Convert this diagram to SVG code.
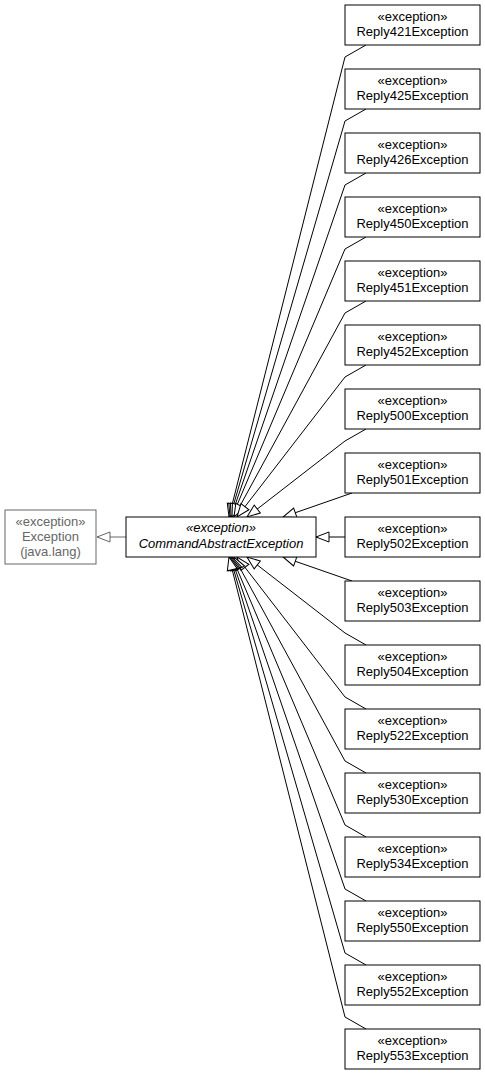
<svg xmlns="http://www.w3.org/2000/svg" width="485" height="1075" viewBox="0 0 485 1075">
<style>
.box{fill:#fff;stroke:#000;stroke-width:1}
.ext{fill:#fff;stroke:#666;stroke-width:1}
text{font-family:"Liberation Sans",Arial,sans-serif;font-size:13px;text-anchor:middle;fill:#000}
.gt{fill:#666}
.it{font-style:italic}
.e{fill:none;stroke:#000;stroke-width:1}
.eg{fill:none;stroke:#666;stroke-width:1}
</style>
<defs>
<marker id="tri" markerUnits="userSpaceOnUse" markerWidth="16" markerHeight="12" refX="13" refY="5" orient="auto" overflow="visible">
<path d="M0,0 L13,5 L0,10 Z" fill="#fff" stroke="#000" stroke-width="1"/>
</marker>
<marker id="trig" markerUnits="userSpaceOnUse" markerWidth="16" markerHeight="12" refX="13" refY="5" orient="auto" overflow="visible">
<path d="M0,0 L13,5 L0,10 Z" fill="#fff" stroke="#666" stroke-width="1"/>
</marker>
</defs>
<g id="edges">
<path class="eg" marker-end="url(#trig)" d="M126,537 L97,537"/>
<path class="e" marker-end="url(#tri)" d="M345,537 L316,537"/>
<path class="e" marker-end="url(#tri)" d="M366,45 L345,57 L229,517"/>
<path class="e" marker-end="url(#tri)" d="M366,109 L345,121 L230,517"/>
<path class="e" marker-end="url(#tri)" d="M366,173 L345,185 L231,517"/>
<path class="e" marker-end="url(#tri)" d="M366,237 L345,249 L232,517"/>
<path class="e" marker-end="url(#tri)" d="M366,301 L345,313 L234,517"/>
<path class="e" marker-end="url(#tri)" d="M366,365 L345,377 L237,517"/>
<path class="e" marker-end="url(#tri)" d="M366,429 L345,441 L247,517"/>
<path class="e" marker-end="url(#tri)" d="M352,493 L283,517"/>
<path class="e" marker-end="url(#tri)" d="M352,581 L283,557"/>
<path class="e" marker-end="url(#tri)" d="M366,645 L345,633 L247,557"/>
<path class="e" marker-end="url(#tri)" d="M366,709 L345,697 L237,557"/>
<path class="e" marker-end="url(#tri)" d="M366,773 L345,761 L234,557"/>
<path class="e" marker-end="url(#tri)" d="M366,837 L345,825 L232,557"/>
<path class="e" marker-end="url(#tri)" d="M366,901 L345,889 L231,557"/>
<path class="e" marker-end="url(#tri)" d="M366,965 L345,953 L230,557"/>
<path class="e" marker-end="url(#tri)" d="M366,1029 L345,1017 L229,557"/>
</g>
<g id="Exception">
<rect class="ext" x="5" y="510" width="91" height="54"/>
<text class="gt" x="50.5" y="526">«exception»</text>
<text class="gt" x="50.5" y="541">Exception</text>
<text class="gt" x="50.5" y="556">(java.lang)</text>
</g>
<g id="CommandAbstractException">
<rect class="box" x="126" y="517" width="190" height="40"/>
<text class="it" x="221" y="532">«exception»</text>
<text class="it" x="221" y="548">CommandAbstractException</text>
</g>
<g id="Reply421Exception"><rect class="box" x="345" y="5" width="135" height="40"/><text x="412.5" y="21">«exception»</text><text x="412.5" y="36">Reply421Exception</text></g>
<g id="Reply425Exception"><rect class="box" x="345" y="69" width="135" height="40"/><text x="412.5" y="85">«exception»</text><text x="412.5" y="100">Reply425Exception</text></g>
<g id="Reply426Exception"><rect class="box" x="345" y="133" width="135" height="40"/><text x="412.5" y="149">«exception»</text><text x="412.5" y="164">Reply426Exception</text></g>
<g id="Reply450Exception"><rect class="box" x="345" y="197" width="135" height="40"/><text x="412.5" y="213">«exception»</text><text x="412.5" y="228">Reply450Exception</text></g>
<g id="Reply451Exception"><rect class="box" x="345" y="261" width="135" height="40"/><text x="412.5" y="277">«exception»</text><text x="412.5" y="292">Reply451Exception</text></g>
<g id="Reply452Exception"><rect class="box" x="345" y="325" width="135" height="40"/><text x="412.5" y="341">«exception»</text><text x="412.5" y="356">Reply452Exception</text></g>
<g id="Reply500Exception"><rect class="box" x="345" y="389" width="135" height="40"/><text x="412.5" y="405">«exception»</text><text x="412.5" y="420">Reply500Exception</text></g>
<g id="Reply501Exception"><rect class="box" x="345" y="453" width="135" height="40"/><text x="412.5" y="469">«exception»</text><text x="412.5" y="484">Reply501Exception</text></g>
<g id="Reply502Exception"><rect class="box" x="345" y="517" width="135" height="40"/><text x="412.5" y="533">«exception»</text><text x="412.5" y="548">Reply502Exception</text></g>
<g id="Reply503Exception"><rect class="box" x="345" y="581" width="135" height="40"/><text x="412.5" y="597">«exception»</text><text x="412.5" y="612">Reply503Exception</text></g>
<g id="Reply504Exception"><rect class="box" x="345" y="645" width="135" height="40"/><text x="412.5" y="661">«exception»</text><text x="412.5" y="676">Reply504Exception</text></g>
<g id="Reply522Exception"><rect class="box" x="345" y="709" width="135" height="40"/><text x="412.5" y="725">«exception»</text><text x="412.5" y="740">Reply522Exception</text></g>
<g id="Reply530Exception"><rect class="box" x="345" y="773" width="135" height="40"/><text x="412.5" y="789">«exception»</text><text x="412.5" y="804">Reply530Exception</text></g>
<g id="Reply534Exception"><rect class="box" x="345" y="837" width="135" height="40"/><text x="412.5" y="853">«exception»</text><text x="412.5" y="868">Reply534Exception</text></g>
<g id="Reply550Exception"><rect class="box" x="345" y="901" width="135" height="40"/><text x="412.5" y="917">«exception»</text><text x="412.5" y="932">Reply550Exception</text></g>
<g id="Reply552Exception"><rect class="box" x="345" y="965" width="135" height="40"/><text x="412.5" y="981">«exception»</text><text x="412.5" y="996">Reply552Exception</text></g>
<g id="Reply553Exception"><rect class="box" x="345" y="1029" width="135" height="40"/><text x="412.5" y="1045">«exception»</text><text x="412.5" y="1060">Reply553Exception</text></g>
</svg>
